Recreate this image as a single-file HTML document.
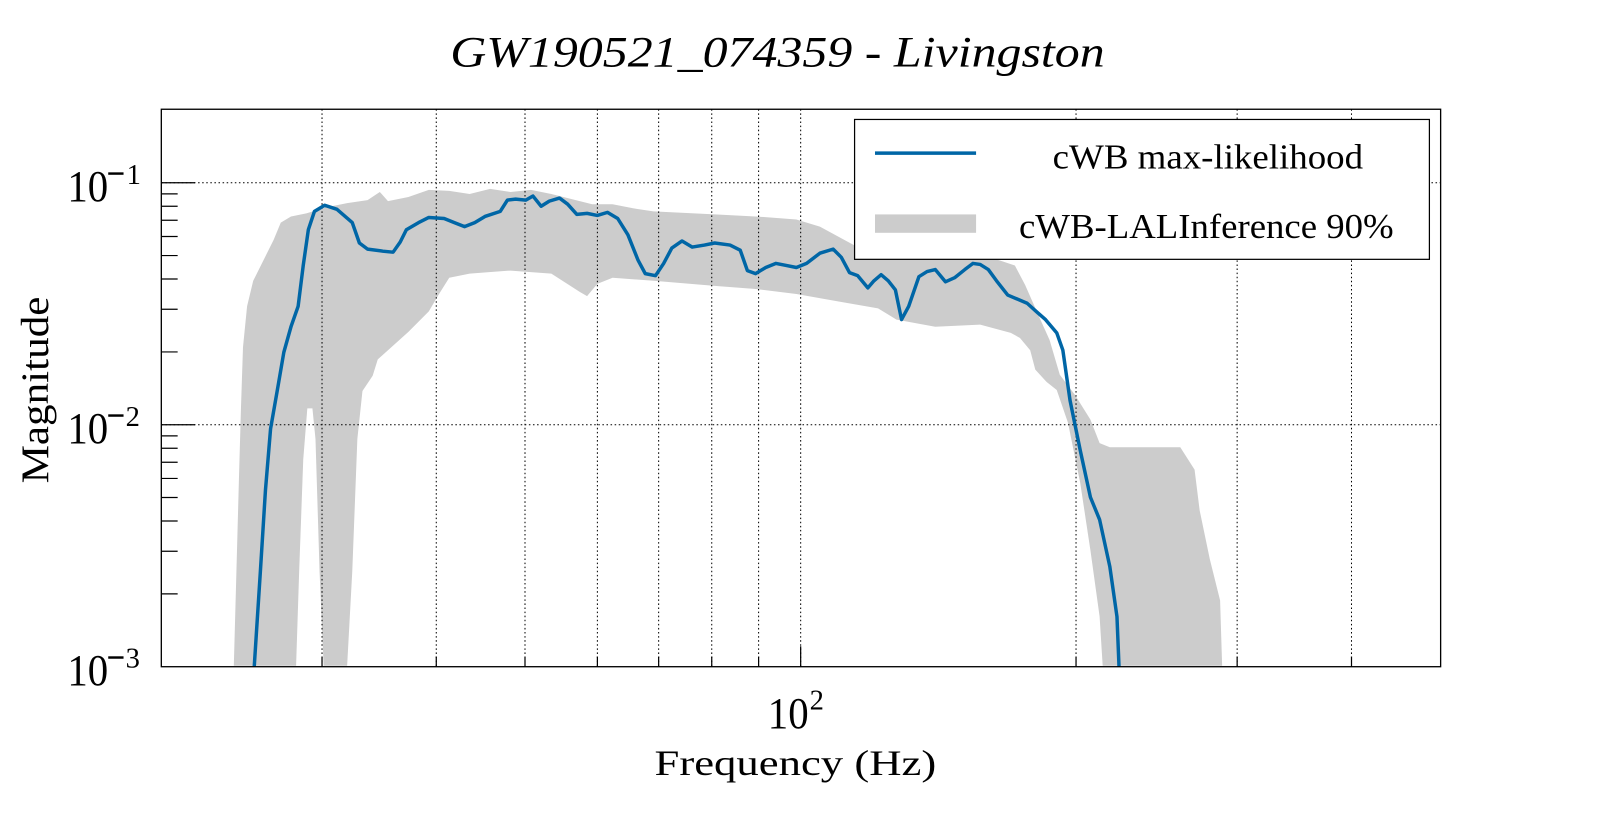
<!DOCTYPE html>
<html><head><meta charset="utf-8"><style>
html,body{margin:0;padding:0;background:#fff;}
svg{display:block;}
</style></head><body>
<svg width="1599" height="813" viewBox="0 0 1599 813" xmlns="http://www.w3.org/2000/svg" font-family="'Liberation Serif','Times New Roman',serif">
<g transform="scale(1.021)">
<path fill="#cccccc" d="M229,652 L231,580 L234,470 L236,400 L238,340 L242,300 L248,275 L258,255 L268,235 L275,218 L285,212 L300,209 L320,203 L340,199 L360,196 L372,188 L380,197 L400,193 L420,186 L440,187 L460,190 L480,185 L500,188 L520,186 L540,190 L560,195 L580,200 L600,200 L620,204 L640,207 L660,208 L700,210 L740,212 L780,215 L803,222 L840,242 L900,250 L960,250 L979,255 L994,260 L1004,279 L1019,313 L1028,333 L1038,367 L1053,387 L1068,411 L1077,434 L1087,438 L1156,438 L1170,460 L1175,500 L1185,548 L1195,588 L1197,652 L1080,652 L1077,604 L1068,539 L1058,473 L1046,414 L1035,382 L1025,374 L1014,362 L1009,343 L999,331 L990,326 L960,318 L916,320 L878,313 L860,302 L820,295 L780,288 L740,283 L700,280 L640,275 L600,272 L585,278 L575,290 L568,286 L540,268 L500,265 L460,268 L440,272 L430,288 L420,305 L400,325 L380,343 L370,352 L365,368 L355,383 L350,430 L345,560 L340,652 L317,652 L313,560 L309,430 L306,400 L301,400 L297,450 L293,560 L290,652 Z"/>
<g stroke="#000" stroke-width="1" stroke-dasharray="1.5,2.5" fill="none">
<line x1="315.4" y1="107" x2="315.4" y2="653"/>
<line x1="427.3" y1="107" x2="427.3" y2="653"/>
<line x1="514.2" y1="107" x2="514.2" y2="653"/>
<line x1="585.1" y1="107" x2="585.1" y2="653"/>
<line x1="645.1" y1="107" x2="645.1" y2="653"/>
<line x1="697.1" y1="107" x2="697.1" y2="653"/>
<line x1="743" y1="107" x2="743" y2="653"/>
<line x1="784.2" y1="107" x2="784.2" y2="653"/>
<line x1="1053.9" y1="107" x2="1053.9" y2="653"/>
<line x1="1211.7" y1="107" x2="1211.7" y2="653"/>
<line x1="1323.7" y1="107" x2="1323.7" y2="653"/>
<line x1="158" y1="179" x2="1411" y2="179"/>
<line x1="158" y1="416" x2="1411" y2="416"/>
</g>
<path fill="none" stroke="#0066a6" stroke-width="3.4" stroke-linejoin="round" d="M249,653 L255,560 L260,480 L265,420 L272,380 L278,345 L285,320 L292,300 L297,260 L302,225 L308,207 L318,201 L330,205 L345,218 L352,238 L360,244 L375,246 L385,247 L392,237 L398,225 L410,218 L420,213 L435,214 L445,218 L455,222 L465,218 L475,212 L490,207 L497,196 L505,195 L515,196 L522,192 L530,202 L538,197 L548,194 L556,200 L565,210 L575,209 L585,211 L595,208 L605,214 L615,230 L625,255 L632,268 L642,270 L650,258 L658,243 L668,236 L678,242 L690,240 L700,238 L715,240 L725,245 L732,265 L740,268 L750,262 L760,258 L770,260 L780,262 L790,258 L803,248 L816,244 L824,252 L832,267 L840,270 L850,282 L856,275 L863,269 L870,275 L877,284 L883,313 L890,300 L900,271 L908,266 L916,264 L926,276 L935,272 L945,264 L953,258 L960,259 L968,264 L976,275 L987,289 L1006,297 L1016,306 L1024,313 L1035,326 L1041,343 L1048,392 L1058,441 L1068,487 L1077,509 L1087,555 L1094,604 L1096,653"/>
<rect x="158" y="653" width="1260" height="20" fill="#fff"/>
<rect x="158" y="107" width="1253" height="546" fill="none" stroke="#000" stroke-width="1.3"/>
<g stroke="#000" stroke-width="1.2">
<line x1="158" y1="179" x2="191" y2="179"/>
<line x1="158" y1="416" x2="191" y2="416"/>
<line x1="158" y1="189.9" x2="174" y2="189.9"/><line x1="158" y1="202" x2="174" y2="202"/><line x1="158" y1="215.7" x2="174" y2="215.7"/><line x1="158" y1="231.6" x2="174" y2="231.6"/><line x1="158" y1="250.3" x2="174" y2="250.3"/><line x1="158" y1="273.3" x2="174" y2="273.3"/><line x1="158" y1="302.9" x2="174" y2="302.9"/><line x1="158" y1="344.7" x2="174" y2="344.7"/>
<line x1="158" y1="426.9" x2="174" y2="426.9"/><line x1="158" y1="439" x2="174" y2="439"/><line x1="158" y1="452.7" x2="174" y2="452.7"/><line x1="158" y1="468.6" x2="174" y2="468.6"/><line x1="158" y1="487.3" x2="174" y2="487.3"/><line x1="158" y1="510.3" x2="174" y2="510.3"/><line x1="158" y1="539.9" x2="174" y2="539.9"/><line x1="158" y1="581.7" x2="174" y2="581.7"/>
<line x1="315.4" y1="653" x2="315.4" y2="643"/><line x1="427.3" y1="653" x2="427.3" y2="643"/><line x1="514.2" y1="653" x2="514.2" y2="643"/><line x1="585.1" y1="653" x2="585.1" y2="643"/><line x1="645.1" y1="653" x2="645.1" y2="643"/><line x1="697.1" y1="653" x2="697.1" y2="643"/><line x1="743" y1="653" x2="743" y2="643"/>
<line x1="784.2" y1="653" x2="784.2" y2="633"/>
<line x1="1053.9" y1="653" x2="1053.9" y2="643"/><line x1="1211.7" y1="653" x2="1211.7" y2="643"/><line x1="1323.7" y1="653" x2="1323.7" y2="643"/>
</g>
<rect x="837" y="117" width="563" height="137" fill="#fff" stroke="#000" stroke-width="1.2"/>
<line x1="857" y1="150" x2="956" y2="150" stroke="#0066a6" stroke-width="3.4"/>
<rect x="857" y="210" width="99" height="18" fill="#cccccc"/>
<text x="1031" y="165" font-size="34" textLength="304" lengthAdjust="spacingAndGlyphs">cWB max-likelihood</text>
<text x="998" y="233" font-size="34" textLength="367" lengthAdjust="spacingAndGlyphs">cWB-LALInference 90%</text>
<g font-size="44">
<text x="66" y="197" textLength="40" lengthAdjust="spacingAndGlyphs">10</text>
<text x="66" y="434" textLength="40" lengthAdjust="spacingAndGlyphs">10</text>
<text x="66" y="671" textLength="40" lengthAdjust="spacingAndGlyphs">10</text>
<text x="752" y="713" textLength="40" lengthAdjust="spacingAndGlyphs">10</text>
</g>
<g stroke="#000" stroke-width="2.4">
<line x1="106" y1="170" x2="121" y2="170"/>
<line x1="106" y1="407" x2="121" y2="407"/>
<line x1="106" y1="644" x2="121" y2="644"/>
</g>
<g font-size="28">
<text x="124" y="180">1</text>
<text x="123" y="417">2</text>
<text x="123" y="654">3</text>
<text x="793" y="695">2</text>
</g>
<text x="641" y="759" font-size="35" textLength="276" lengthAdjust="spacingAndGlyphs">Frequency (Hz)</text>
<text transform="translate(47,382) rotate(-90)" text-anchor="middle" font-size="38" textLength="183" lengthAdjust="spacingAndGlyphs">Magnitude</text>
<text x="441" y="65" font-size="42" font-style="italic" textLength="641" lengthAdjust="spacingAndGlyphs">GW190521_074359 - Livingston</text>
</g>
</svg>
</body></html>
